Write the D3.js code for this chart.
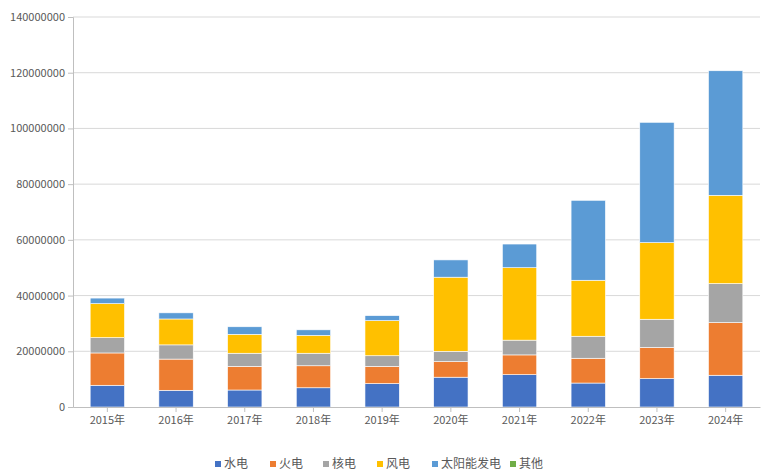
<!DOCTYPE html>
<html>
<head>
<meta charset="utf-8">
<script src="https://cdn.jsdelivr.net/npm/d3@7"></script>
<style>
  body { margin: 0; background: #fff; }
  text { font-family: "Microsoft YaHei", "Noto Sans CJK SC", sans-serif; }
</style>
</head>
<body>
<div id="chart"></div>
<script>
// data
var years = ["2015年","2016年","2017年","2018年","2019年","2020年","2021年","2022年","2023年","2024年"];
var seriesNames = ["水电","火电","核电","风电","太阳能发电","其他"];
var hydro   = [7.8, 6.0, 6.1, 6.9, 8.4, 10.7, 11.6, 8.6, 10.2, 11.4];
var thermal = [11.6, 11.2, 8.5, 7.9, 6.2, 5.6, 7.1, 8.9, 11.2, 18.9];
var nuclear = [5.5, 5.1, 4.7, 4.5, 3.8, 3.7, 5.3, 7.9, 10.1, 14.0];
var wind    = [12.2, 9.3, 6.8, 6.4, 12.6, 26.6, 26.0, 20.1, 27.5, 31.7];
var solar   = [2.0, 2.2, 2.7, 2.0, 1.8, 6.2, 8.5, 28.7, 43.2, 44.7];
var other   = [0, 0, 0, 0, 0, 0, 0, 0, 0, 0];
var yTicks  = [0, 20000000, 40000000, 60000000, 80000000, 100000000, 120000000, 140000000];
var colors  = ["#4472C4", "#ED7D31", "#A5A5A5", "#FFC000", "#5B9BD5", "#70AD47"];

// build table (values in millions -> units)
var table = years.map(function(y, i) {
    return {
        year: y,
        "水电": hydro[i] * 1e6,
        "火电": thermal[i] * 1e6,
        "核电": nuclear[i] * 1e6,
        "风电": wind[i] * 1e6,
        "太阳能发电": solar[i] * 1e6,
        "其他": other[i] * 1e6
    };
});

var W = 769, H = 476;
var margin = {top: 17, right: 9, bottom: 69, left: 73},
    width = W - margin.left - margin.right,
    height = H - margin.top - margin.bottom;

var svg = d3.select("#chart").append("svg")
    .attr("width", W).attr("height", H);
var g = svg.append("g")
    .attr("transform", "translate(" + margin.left + "," + margin.top + ")");

var x = d3.scaleBand().domain(years).range([0, width]).paddingInner(0.5).paddingOuter(0.25);
var y = d3.scaleLinear().domain([0, 140000000]).range([height, 0]);

// gridlines
g.selectAll(".grid").data(yTicks.slice(1)).enter().append("line")
    .attr("x1", 0).attr("x2", width)
    .attr("y1", function(d) { return y(d); }).attr("y2", function(d) { return y(d); })
    .attr("stroke", "#d9d9d9").attr("stroke-width", 1);

// y axis
var yAxis = g.append("g")
    .call(d3.axisLeft(y).tickValues(yTicks).tickFormat(d3.format("d")).tickSize(5).tickPadding(3));
yAxis.select(".domain").attr("stroke", "#bfbfbf");
yAxis.selectAll(".tick line").attr("stroke", "#bfbfbf");
yAxis.selectAll("text").attr("fill", "#595959").style("font-size", "11px");

// stacked bars
var stack = d3.stack().keys(seriesNames)(table);
g.selectAll(".layer").data(stack).enter().append("g")
    .attr("fill", function(d, i) { return colors[i]; })
    .selectAll("rect").data(function(d) { return d; }).enter().append("rect")
    .attr("x", function(d) { return x(d.data.year); })
    .attr("y", function(d) { return y(d[1]); })
    .attr("width", x.bandwidth())
    .attr("height", function(d) { return y(d[0]) - y(d[1]); })
    .attr("stroke", "#fff").attr("stroke-width", 0.6);

// x axis
var xAxis = g.append("g").attr("transform", "translate(0," + height + ")")
    .call(d3.axisBottom(x).tickSize(5).tickPadding(4).tickSizeOuter(0));
xAxis.select(".domain").attr("stroke", "#bfbfbf");
xAxis.selectAll(".tick line").attr("stroke", "#bfbfbf");
xAxis.selectAll("text").attr("fill", "#595959").style("font-size", "11px");

// legend
var legendX = [215, 270, 323, 377, 432, 510];
var legend = svg.selectAll(".legend").data(seriesNames).enter().append("g")
    .attr("transform", function(d, i) { return "translate(" + legendX[i] + ",464)"; });
legend.append("rect")
    .attr("x", 0).attr("y", -3).attr("width", 6).attr("height", 6)
    .attr("fill", function(d, i) { return colors[i]; });
legend.append("text")
    .attr("x", 9).attr("y", 0).attr("dy", "0.35em")
    .attr("fill", "#595959").style("font-size", "12px")
    .text(function(d) { return d; });
</script>
</body>
</html>
